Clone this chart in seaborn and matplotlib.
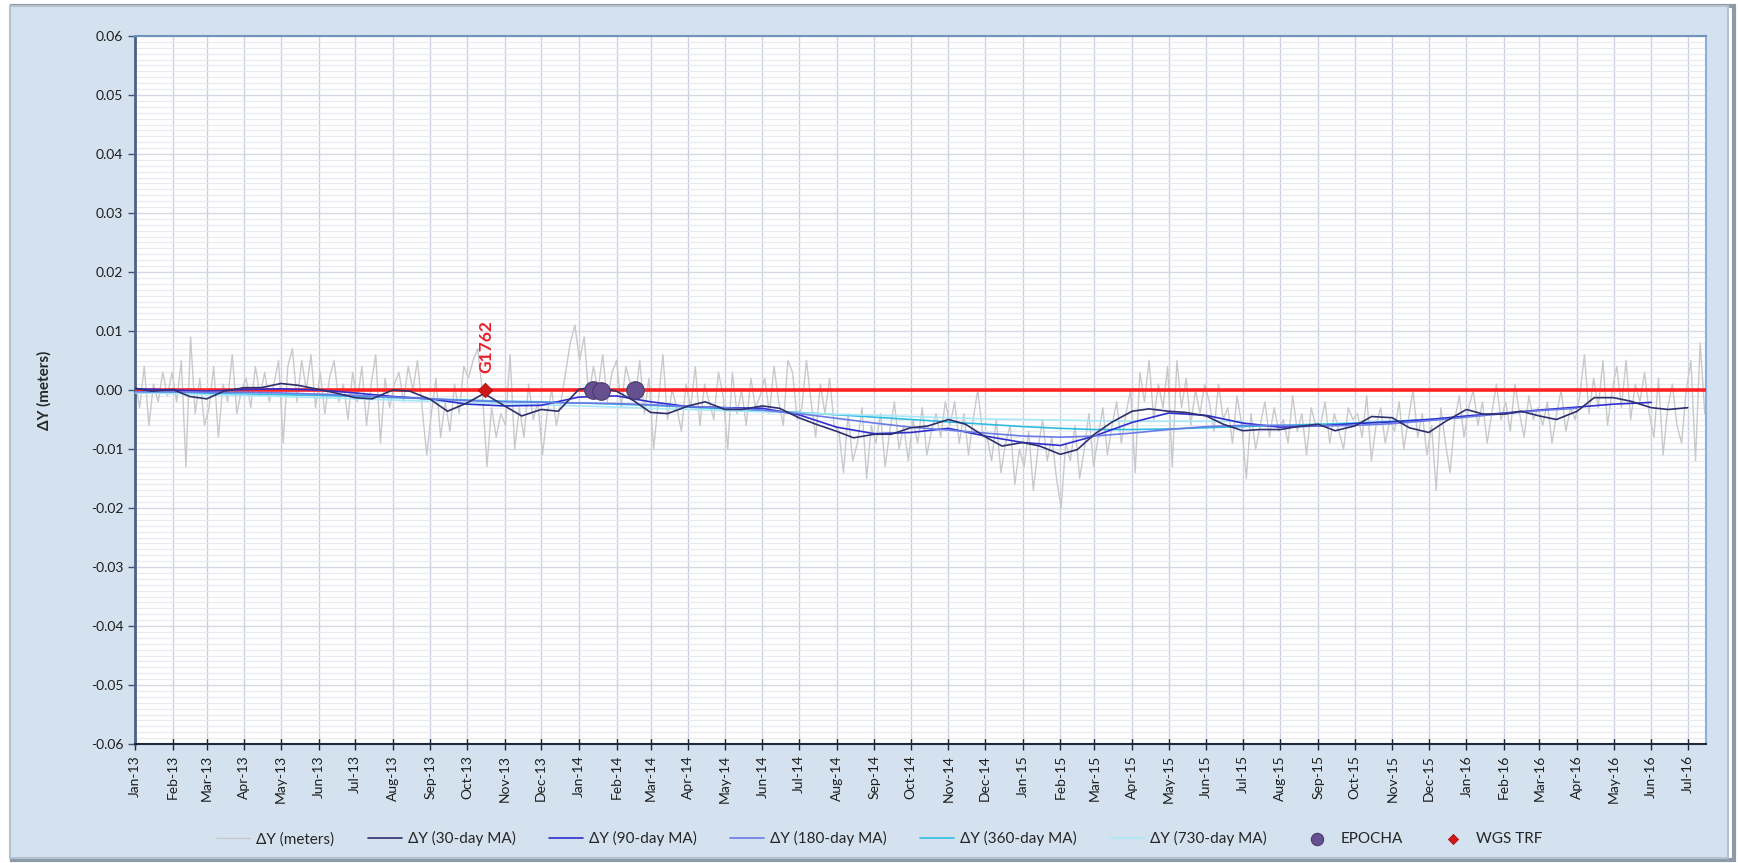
import numpy as np
import pandas as pd
import seaborn as sns
import matplotlib.pyplot as plt
import matplotlib.dates as mdates
from matplotlib.patches import Rectangle
from matplotlib.ticker import MultipleLocator

# raw daily dY (in millimetres, ~every 4 days)
raw_dy_mm = [
    2, -3, 4, -6, 1, -2, 3, -1,  3, -2, 5, -13, 9, -4, 2, -6,
    -3, 4, -8, 1, -2, 6, -4, 0,  2, -3, 4, -1, 3, -2, 1, 5,
    -9, 4, 7, -2, 5, 0, 6, -3,  3, -4, 2, 5, -2, 1, -5, 3,
    -2, 4, -6, 1, 6, -9, 2, -3,  1, 3, -2, 4, 0, 5, -3, -11,
    -4, 2, -8, -2, -7, 1, -4, 4,  2, 5, 7, 0, -13, -3, -8, -4,
    -6, 6, -10, -3, -8, 1, -5, -2,  -11, -4, 0, -6, -2, 3, 8, 11,
    5, 9, -1, 4, 0, 6, -2, 3,  5, -3, 4, 1, -2, 5, -4, 2,
    -10, -2, 6, -5, 0, -3, -7, 1,  -3, 4, -6, 1, -2, -5, 3, -1,
    -10, 3, -4, 0, -6, 2, -3, -1,  2, -4, 4, -2, -6, 5, 3, -5,
    -3, 5, -2, -8, 1, -4, 2, -6,  -7, -14, -4, -12, -9, -3, -15, -6,
    -9, -4, -13, -7, -2, -10, -6, -12,  -5, -9, -3, -11, -7, -4, -8, -2,
    -6, -2, -9, -4, -11, -5, 0, -7,  -8, -12, -5, -14, -9, -6, -16, -10,
    -13, -7, -17, -10, -5, -12, -8, -15,  -20, -9, -12, -6, -15, -10, -4, -13,
    -8, -3, -11, -6, -2, -9, -4, 0,  -14, 3, -2, 5, -5, 1, -3, 4,
    -13, 5, -3, 2, -6, 0, -4, 1,  -2, -7, 1, -5, -3, -9, -1, -6,
    -15, -4, -10, -6, -2, -8, -3, -7,  -5, -9, -1, -7, -4, -11, -3, -6,
    -6, -2, -9, -4, -7, -10, -3, -5,  -4, -8, -1, -12, -6, -3, -9, -5,
    -7, -2, -10, -5, 0, -8, -4, -11,  -6, -17, -3, -9, -14, -5, -1, -8,
    -3, 0, -6, -2, -9, -4, 1, -5,  -2, -7, 1, -4, -8, -1, -5, -3,
    -6, -2, -9, -4, 0, -7, -3, -5,  -1, 6, -4, 2, -3, 5, -6, 0,
    4, -3, 5, -5, 1, -2, 3, -4,  -8, 2, -11, -3, 1, -6, -9, 0,
    5, -12, 8, -4,
]

# 30-day moving average, 1st and 15th of each month, Jan-13 .. Jul-16 (mm)
ma30_mm = [
    0.3, -0.2, 0.1, -1.1, -1.5, -0.2, 0.4, 0.4, 1.1, 0.8, 0.1, -0.5,
    -1.3, -1.5, 0.0, -0.2, -1.6, -3.6, -2.2, -0.6, -2.7, -4.4, -3.3, -3.6,
    0.1, 0.6, -0.2, -1.8, -3.8, -4.0, -2.7, -2.0, -3.3, -3.3, -2.7, -3.1,
    -4.7, -5.8, -7.0, -8.1, -7.5, -7.5, -6.4, -6.1, -5.0, -5.8, -7.9, -9.5,
    -8.9, -9.5, -10.9, -10.1, -7.5, -5.5, -3.6, -3.2, -3.6, -3.8, -4.4, -5.8,
    -6.9, -6.7, -6.7, -6.2, -5.8, -6.9, -6.1, -4.5, -4.7, -6.4, -7.2, -5.3,
    -3.3, -4.1, -4.1, -3.6, -4.4, -5.0, -3.6, -1.3, -1.3, -1.9, -3.0, -3.3,
    -3.0,
]

# monthly samples (1st of month) of the longer moving averages (mm)
ma90_mm = [
    0.2, 0.0, -0.2, 0.1, 0.2, 0.0, -0.5, -1.1, -1.5, -2.4, -2.7, -2.6,
    -1.2, -1.0, -2.0, -2.8, -3.0, -3.1, -4.2, -6.3, -7.4, -7.2, -6.5, -7.8,
    -8.9, -9.4, -7.8, -5.5, -3.9, -4.3, -5.6, -6.3, -6.1, -5.7, -5.4, -5.0,
    -4.4, -3.9, -3.4, -2.9, -2.4, -2.1,
]
ma180_mm = [
    -0.3, -0.3, -0.4, -0.4, -0.5, -0.7, -0.9, -1.2, -1.5, -1.8, -2.0, -2.1,
    -2.2, -2.3, -2.5, -2.8, -3.0, -3.4, -4.0, -4.8, -5.6, -6.3, -6.8, -7.3,
    -7.8, -8.0, -7.8, -7.3, -6.7, -6.2, -6.0, -6.0, -6.1, -6.0, -5.7, -5.2,
    -4.6, -4.0, -3.5, -3.1,
]
ma360_mm = [
    -0.4, -0.5, -0.6, -0.7, -0.8, -0.9, -1.1, -1.3, -1.5, -1.7, -1.9, -2.0,
    -2.2, -2.4, -2.6, -2.9, -3.2, -3.5, -3.8, -4.2, -4.6, -5.0, -5.4, -5.8,
    -6.2, -6.5, -6.7, -6.7, -6.6, -6.4, -6.2, -6.0, -5.8, -5.6, -5.3, -5.0,
    -4.6,
]
ma730_mm = [
    -0.5, -0.6, -0.8, -0.9, -1.1, -1.3, -1.5, -1.7, -1.9, -2.1, -2.3, -2.5,
    -2.7, -2.9, -3.1, -3.3, -3.5, -3.7, -3.9, -4.1, -4.3, -4.5, -4.7, -4.9,
    -5.0, -5.1, -5.2, -5.3, -5.3, -5.3, -5.3,
]

epocha_dates = ["2014-01-13", "2014-01-19", "2014-02-16"]
epocha_dy = [0.0, -0.0001, 0.0]
wgs_dates = ["2013-10-16"]
wgs_dy = [0.0]
wgs_labels = ["G1762"]

# build frames
raw = pd.DataFrame({
    "date": pd.date_range("2013-01-01", "2016-07-15", periods=len(raw_dy_mm)),
    "dy": np.array(raw_dy_mm) / 1000.0,
})
ma30 = pd.DataFrame({
    "date": pd.date_range("2013-01-01", periods=len(ma30_mm), freq="SMS"),
    "dy": np.array(ma30_mm) / 1000.0,
})


def monthly(vals):
    return pd.DataFrame({
        "date": pd.date_range("2013-01-01", periods=len(vals), freq="MS"),
        "dy": np.array(vals) / 1000.0,
    })


ma90 = monthly(ma90_mm)
ma180 = monthly(ma180_mm)
ma360 = monthly(ma360_mm)
ma730 = monthly(ma730_mm)
epo = pd.DataFrame({"date": pd.to_datetime(epocha_dates), "dy": epocha_dy})
wgs = pd.DataFrame({"date": pd.to_datetime(wgs_dates), "dy": wgs_dy})

sns.set_style("white")
plt.rcParams["font.family"] = ["Lato", "DejaVu Sans"]

fig = plt.figure(figsize=(17.38, 8.63), dpi=100)
fig.patch.set_facecolor("white")
# outer chart frame with a bit of bevel
fig.patches.append(Rectangle((12 / 1738, 3 / 863), 1722 / 1738, 854 / 863,
                             transform=fig.transFigure, facecolor="none",
                             edgecolor="#8E9AA8", linewidth=3, zorder=-11))
fig.patches.append(Rectangle((10 / 1738, 5 / 863), 1718 / 1738, 852 / 863,
                             transform=fig.transFigure, facecolor="#D4E2EF",
                             edgecolor="#B4C2D0", linewidth=1.5, zorder=-10))

ax = fig.add_axes([135 / 1738, 1 - 744 / 863, (1706 - 135) / 1738, (744 - 36) / 863])
ax.set_facecolor("white")

sns.lineplot(data=raw, x="date", y="dy", ax=ax, color="#C9C9C9", linewidth=1.0,
             label="\u0394Y (meters)", zorder=2)
ax.axhline(0, color="#FF2222", linewidth=2.6, zorder=3)
sns.lineplot(data=ma30, x="date", y="dy", ax=ax, color="#2F2F6E", linewidth=1.2,
             label="\u0394Y (30-day MA)", zorder=6)
sns.lineplot(data=ma90, x="date", y="dy", ax=ax, color="#2E2ED0", linewidth=1.2,
             label="\u0394Y (90-day MA)", zorder=5)
sns.lineplot(data=ma180, x="date", y="dy", ax=ax, color="#6A7BE6", linewidth=1.2,
             label="\u0394Y (180-day MA)", zorder=5)
sns.lineplot(data=ma360, x="date", y="dy", ax=ax, color="#2FBCE0", linewidth=1.2,
             label="\u0394Y (360-day MA)", zorder=4)
sns.lineplot(data=ma730, x="date", y="dy", ax=ax, color="#A8E8F6", linewidth=1.2,
             label="\u0394Y (730-day MA)", zorder=4)
sns.scatterplot(data=epo, x="date", y="dy", ax=ax, s=160, color="#66508F",
                edgecolor="#4A3A70", linewidth=0.8, label="EPOCHA", zorder=8)
sns.scatterplot(data=wgs, x="date", y="dy", ax=ax, marker="D", s=55,
                color="#D01818", edgecolor="#A00000", linewidth=0.5,
                label="WGS TRF", zorder=9)
for d, v, t in zip(wgs["date"], wgs["dy"], wgs_labels):
    ax.annotate(t, (d, v), xytext=(1, 12), textcoords="offset points",
                rotation=90, ha="center", va="bottom", color="#E8202A",
                fontsize=12.5, fontweight="bold", zorder=9)

ax.set_xlim(pd.Timestamp("2013-01-01"), pd.Timestamp("2016-07-16"))
ax.set_ylim(-0.06, 0.06)
ax.yaxis.set_major_locator(MultipleLocator(0.01))
ax.yaxis.set_minor_locator(MultipleLocator(0.001))
ax.yaxis.set_major_formatter(plt.FuncFormatter(lambda v, p: f"{v:.2f}"))
ax.xaxis.set_major_locator(mdates.MonthLocator())
ax.xaxis.set_major_formatter(mdates.DateFormatter("%b-%y"))
ax.grid(which="major", axis="x", color="#C9D0DE", linewidth=1.0)
ax.grid(which="major", axis="y", color="#D4D9E3", linewidth=1.0)
ax.grid(which="minor", axis="y", color="#E7EAF1", linewidth=0.8)
ax.set_axisbelow(True)
ax.tick_params(axis="x", which="major", direction="inout", length=8, width=1,
               color="#1E2A3A", labelsize=10, labelrotation=90, pad=4,
               labelcolor="#1E1E1E")
ax.tick_params(axis="y", which="major", direction="out", length=5, width=1,
               color="#3E5676", labelsize=10, labelcolor="#1E1E1E", left=True)
ax.tick_params(axis="y", which="minor", left=False)
ax.tick_params(axis="x", bottom=True)

ax.spines["left"].set_color("#4A6484")
ax.spines["left"].set_linewidth(2)
ax.spines["top"].set_color("#7093BE")
ax.spines["top"].set_linewidth(1.5)
ax.spines["right"].set_color("#8BAFE0")
ax.spines["right"].set_linewidth(1.5)
ax.spines["bottom"].set_color("#1E2A3A")
ax.spines["bottom"].set_linewidth(1.5)

ax.set_xlabel("")
ax.set_ylabel("\u0394Y (meters)", fontsize=11, fontweight="bold", labelpad=28)

handles, labels = ax.get_legend_handles_labels()
ax.get_legend().remove()
fig.legend(handles, labels, loc="center", bbox_to_anchor=(0.506, 0.028), ncol=8,
           frameon=False, fontsize=11, handlelength=2.2, columnspacing=2.2,
           handletextpad=0.4, markerscale=0.7)

fig.savefig("out.png", dpi=100)
